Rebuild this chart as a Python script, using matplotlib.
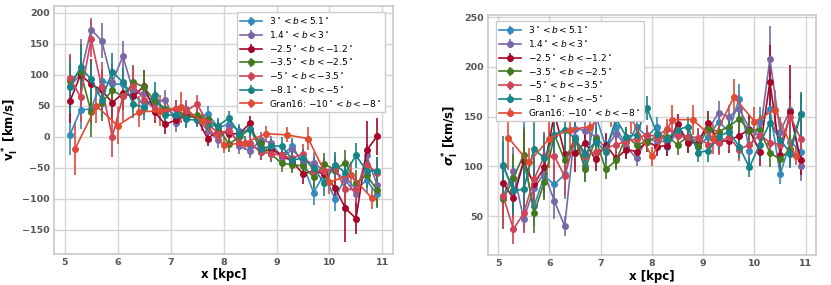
import numpy as np
import matplotlib
matplotlib.use('Agg')
import matplotlib.pyplot as plt

# bin centres
x = np.round(np.arange(5.1, 10.95, 0.2), 1)
x_gran = np.round(np.arange(5.2, 10.85, 0.4), 1)

labels = [r'$3^\circ < b < 5.1^\circ$',
          r'$1.4^\circ < b < 3^\circ$',
          r'$-2.5^\circ < b < -1.2^\circ$',
          r'$-3.5^\circ < b < -2.5^\circ$',
          r'$-5^\circ < b < -3.5^\circ$',
          r'$-8.1^\circ < b < -5^\circ$']
label_gran = r'Gran16: $-10^\circ < b < -8^\circ$'
colors = ['#348ABD', '#7A68A6', '#A60628', '#467821', '#CF4457', '#188487']
color_gran = '#E24A33'

# mean velocity v_l*
v_b1 = [3, 43, 45, 90, 85, 85, 70, 50, 60, 45, 35, 40, 30, 37, 15,
        20, 10, -15, -20, -15, -30, -15, -45, -90, -60, -100, -65, -85, -70, -93]
v_b2 = [82, 100, 173, 155, 88, 130, 72, 70, 55, 60, 22, 45, 30, 10, -5,
        15, -15, -23, -5, -10, -35, -20, -40, -42, -55, -55, -70, -93, -30, -78]
v_b3 = [57, 100, 85, 75, 55, 70, 65, 82, 40, 20, 27, 35, 30, -3, 10,
        5, 5, 22, -25, -20, -30, -40, -60, -55, -60, -82, -115, -132, -22, 1]
v_b4 = [90, 105, 40, 55, 75, 65, 88, 80, 58, 45, 45, 30, 35, 28, 15,
        -12, 0, 12, -10, -28, -43, -45, -47, -65, -44, -53, -42, -75, -62, -86]
v_b5 = [95, 64, 158, 80, 0, 65, 82, 60, 45, 40, 45, 42, 53, 22, 5,
        10, -10, -10, -25, -27, -30, -35, -27, -55, -55, -50, -85, -85, -45, -58]
v_b6 = [80, 112, 93, 60, 105, 88, 53, 47, 68, 35, 35, 28, 27, 18, 18,
        30, 5, 13, -20, -15, -15, -37, -35, -50, -75, -45, -58, -30, -55, -55]
v_gran = [-19, 50, 18, 40, 42, 48, 25, -13, -10, 5, 3, -3, -73, -62, -99]

v_err1 = [33, 30, 25, 20, 18, 18, 15, 15, 14, 12, 11, 10, 10, 12, 11,
          11, 11, 12, 12, 12, 12, 13, 15, 20, 18, 20, 20, 20, 20, 22]
v_err2 = [35, 58, 18, 28, 30, 25, 20, 20, 18, 15, 15, 14, 13, 13, 13,
          13, 12, 12, 12, 12, 14, 14, 15, 18, 20, 20, 22, 20, 18, 25]
v_err3 = [35, 25, 40, 30, 30, 25, 20, 25, 18, 15, 12, 12, 12, 12, 12,
          12, 12, 12, 12, 12, 12, 14, 16, 18, 20, 22, 55, 25, 47, 30]
v_err4 = [40, 45, 40, 30, 25, 22, 27, 27, 18, 15, 14, 14, 12, 12, 12,
          12, 12, 12, 12, 12, 14, 14, 15, 18, 18, 20, 20, 22, 20, 28]
v_err5 = [38, 40, 30, 40, 32, 40, 30, 25, 18, 15, 15, 14, 14, 13, 13,
          13, 12, 12, 12, 12, 14, 14, 15, 18, 18, 20, 22, 22, 25, 25]
v_err6 = [42, 35, 30, 28, 30, 25, 22, 20, 20, 15, 14, 14, 12, 12, 12,
          12, 12, 12, 12, 12, 14, 15, 15, 18, 20, 20, 22, 20, 22, 22]
v_err_gran = [43, 28, 30, 25, 25, 25, 15, 13, 12, 12, 12, 18, 20, 22, 18]

# dispersion sigma_l*
s_b1 = [100, 75, 105, 60, 90, 82, 92, 130, 100, 152, 120, 140, 120, 140, 130,
        140, 120, 135, 128, 120, 130, 145, 135, 168, 116, 145, 158, 92, 125, 115]
s_b2 = [70, 95, 47, 78, 93, 65, 40, 138, 136, 130, 118, 133, 120, 108, 128,
        125, 125, 135, 125, 128, 137, 154, 150, 158, 138, 130, 208, 135, 157, 100]
s_b3 = [83, 68, 105, 82, 99, 153, 113, 114, 124, 107, 122, 108, 117, 115, 125,
        120, 121, 143, 124, 124, 144, 125, 126, 131, 137, 115, 185, 112, 155, 106]
s_b4 = [67, 88, 112, 53, 84, 132, 106, 128, 97, 128, 97, 106, 130, 122, 125,
        130, 130, 122, 130, 121, 138, 135, 140, 148, 136, 137, 114, 107, 118, 153]
s_b5 = [70, 37, 53, 87, 110, 110, 90, 128, 110, 115, 118, 122, 125, 128, 132,
        130, 138, 131, 130, 129, 122, 124, 130, 117, 122, 132, 124, 122, 150, 128]
s_b6 = [101, 76, 77, 118, 108, 132, 137, 128, 113, 125, 115, 148, 130, 132, 159,
        133, 128, 137, 140, 114, 116, 130, 135, 120, 99, 122, 144, 127, 113, 153]
s_gran = [129, 104, 128, 137, 140, 158, 148, 110, 147, 147, 128, 170, 145, 157, 111]

s_err1 = [25, 20, 40, 20, 20, 20, 25, 20, 15, 15, 12, 12, 10, 10, 10,
          10, 10, 10, 10, 10, 12, 12, 14, 15, 15, 15, 30, 10, 20, 20]
s_err2 = [25, 25, 12, 15, 25, 18, 10, 30, 20, 20, 12, 12, 12, 8, 10,
          10, 10, 10, 10, 10, 12, 12, 12, 15, 15, 15, 33, 15, 15, 15]
s_err3 = [20, 20, 30, 25, 25, 25, 20, 20, 15, 12, 12, 10, 10, 10, 10,
          10, 10, 10, 10, 10, 12, 12, 12, 12, 15, 15, 37, 15, 47, 15]
s_err4 = [30, 25, 28, 20, 18, 20, 20, 20, 13, 12, 10, 10, 10, 10, 10,
          10, 10, 10, 10, 10, 12, 12, 12, 12, 12, 15, 15, 12, 18, 20]
s_err5 = [32, 15, 20, 25, 25, 25, 20, 20, 15, 12, 10, 10, 10, 10, 10,
          10, 10, 10, 10, 10, 10, 12, 12, 12, 12, 15, 15, 15, 18, 18]
s_err6 = [30, 25, 30, 30, 25, 25, 25, 20, 15, 15, 12, 12, 10, 10, 12,
          10, 10, 10, 10, 10, 12, 12, 12, 12, 10, 15, 15, 15, 15, 22]
s_err_gran = [33, 15, 30, 18, 18, 18, 15, 10, 15, 15, 15, 18, 15, 20, 10]

v_series = [v_b1, v_b2, v_b3, v_b4, v_b5, v_b6]
v_errs = [v_err1, v_err2, v_err3, v_err4, v_err5, v_err6]
s_series = [s_b1, s_b2, s_b3, s_b4, s_b5, s_b6]
s_errs = [s_err1, s_err2, s_err3, s_err4, s_err5, s_err6]

plt.rcParams['font.family'] = ['DejaVu Sans']

fig = plt.figure(figsize=(8.31, 2.85), dpi=100)
ax1 = fig.add_axes([0.065, 0.109, 0.408, 0.870])
ax2 = fig.add_axes([0.587, 0.105, 0.395, 0.842])


def style_axes(ax):
    ax.grid(True, color='#d4d4d4', linewidth=1.0)
    ax.set_axisbelow(True)
    for sp in ax.spines.values():
        sp.set_color('#c8c8c8')
        sp.set_linewidth(1.2)
    ax.tick_params(axis='both', length=0, labelsize=6.8, labelcolor='#555555', pad=3)
    for lab in ax.get_xticklabels() + ax.get_yticklabels():
        lab.set_fontweight('bold')


def draw(ax, series, errs, gran, gran_err):
    for y, e, c, lab in zip(series, errs, colors, labels):
        ax.errorbar(x, y, yerr=e, color=c, marker='o', ms=4, lw=1.2,
                    elinewidth=1.2, capsize=0, label=lab)
    ax.errorbar(x_gran, gran, yerr=gran_err, color=color_gran, marker='o', ms=4,
                lw=1.2, elinewidth=1.2, capsize=0, label=label_gran)


draw(ax1, v_series, v_errs, v_gran, v_err_gran)
ax1.set_xlim(4.8, 11.2)
ax1.set_ylim(-189, 211)
ax1.set_yticks([-150, -100, -50, 0, 50, 100, 150, 200])
ax1.set_xticks([5, 6, 7, 8, 9, 10, 11])
ax1.set_xlabel('x [kpc]', fontsize=8.5, fontweight='bold', labelpad=1)
ax1.set_ylabel(r'$\mathbf{v_l^*}$ [km/s]', fontsize=8.5, fontweight='bold', labelpad=1)
ax1.legend(loc='upper right', fontsize=6.5, frameon=True, framealpha=1,
           edgecolor='#cccccc', fancybox=False, handlelength=2.4,
           borderpad=0.4, labelspacing=0.3, bbox_to_anchor=(0.99, 0.995))
style_axes(ax1)

draw(ax2, s_series, s_errs, s_gran, s_err_gran)
ax2.set_xlim(4.8, 11.2)
ax2.set_ylim(11, 252)
ax2.set_yticks([50, 100, 150, 200, 250])
ax2.set_xticks([5, 6, 7, 8, 9, 10, 11])
ax2.set_xlabel('x [kpc]', fontsize=8.5, fontweight='bold', labelpad=1)
ax2.set_ylabel(r'$\boldsymbol{\sigma}_\mathbf{l}^\mathbf{*}$ [km/s]', fontsize=8.5,
               fontweight='bold', labelpad=2)
ax2.legend(loc='upper left', fontsize=6.5, frameon=True, framealpha=1,
           edgecolor='#cccccc', fancybox=False, handlelength=2.4,
           borderpad=0.4, labelspacing=0.3, bbox_to_anchor=(0.01, 0.995))
style_axes(ax2)

fig.savefig('out.png', dpi=100)
